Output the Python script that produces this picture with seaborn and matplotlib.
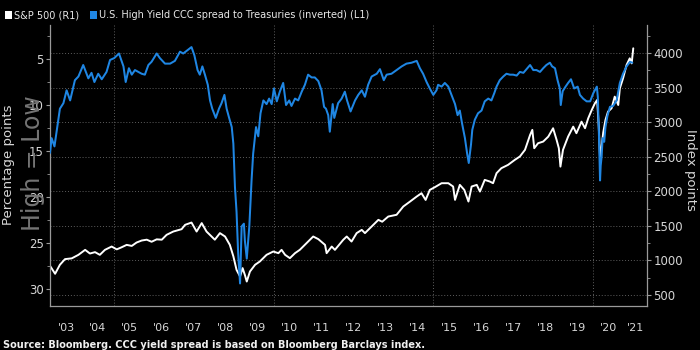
import matplotlib
matplotlib.use("Agg")
import matplotlib.pyplot as plt
import seaborn as sns
import pandas as pd
from matplotlib.patches import Rectangle
from matplotlib.ticker import FixedLocator, MultipleLocator, NullFormatter, FixedFormatter

# ---------------- data ----------------
SPREAD_T = [2003.00, 2003.05, 2003.14, 2003.31, 2003.42, 2003.52, 2003.63, 2003.78, 2003.89, 2004.04,
            2004.20, 2004.30, 2004.39, 2004.51, 2004.62, 2004.77, 2004.88, 2005.01, 2005.16, 2005.30,
            2005.37, 2005.47, 2005.56, 2005.66, 2005.87, 2005.97, 2006.08, 2006.18, 2006.34, 2006.44,
            2006.60, 2006.76, 2006.91, 2007.07, 2007.17, 2007.28, 2007.43, 2007.52, 2007.62, 2007.69,
            2007.77, 2007.85, 2007.94, 2008.01, 2008.08, 2008.19, 2008.29, 2008.37, 2008.46, 2008.53,
            2008.60, 2008.69, 2008.74, 2008.79, 2008.84, 2008.89, 2008.95, 2009.00, 2009.07, 2009.10,
            2009.16, 2009.24, 2009.31, 2009.36, 2009.45, 2009.52, 2009.59, 2009.68, 2009.78, 2009.86,
            2009.94, 2010.01, 2010.10, 2010.20, 2010.30, 2010.39, 2010.49, 2010.56, 2010.67, 2010.77,
            2010.88, 2010.98, 2011.08, 2011.19, 2011.29, 2011.40, 2011.50, 2011.58, 2011.64, 2011.71,
            2011.76, 2011.85, 2011.90, 2012.02, 2012.13, 2012.23, 2012.30, 2012.41, 2012.55, 2012.65,
            2012.76, 2012.86, 2012.96, 2013.07, 2013.23, 2013.33, 2013.45, 2013.54, 2013.69, 2013.85,
            2014.01, 2014.16, 2014.32, 2014.48, 2014.58, 2014.68, 2014.79, 2014.89, 2015.00, 2015.10,
            2015.15, 2015.26, 2015.36, 2015.47, 2015.57, 2015.68, 2015.76, 2015.83, 2015.90, 2015.99,
            2016.06, 2016.11, 2016.18, 2016.22, 2016.30, 2016.40, 2016.51, 2016.61, 2016.72, 2016.82,
            2016.91, 2016.98, 2017.08, 2017.19, 2017.29, 2017.40, 2017.50, 2017.61, 2017.71, 2017.82,
            2017.92, 2018.03, 2018.13, 2018.23, 2018.34, 2018.44, 2018.54, 2018.65, 2018.72, 2018.81,
            2018.89, 2018.96, 2018.99, 2019.05, 2019.14, 2019.22, 2019.31, 2019.41, 2019.52, 2019.59,
            2019.69, 2019.80, 2019.91, 2020.01, 2020.12, 2020.15, 2020.19, 2020.22, 2020.24, 2020.27,
            2020.30, 2020.35, 2020.39, 2020.45, 2020.53, 2020.63, 2020.74, 2020.84, 2020.94, 2021.05,
            2021.16, 2021.23]
SPREAD_V = [15.2, 13.6, 14.5, 10.4, 9.8, 8.4, 9.5, 7.3, 6.9, 5.65,
            7.1, 6.5, 7.5, 6.6, 7.2, 6.4, 5.1, 4.9, 4.4, 5.8,
            7.5, 6.0, 6.7, 6.2, 6.6, 6.7, 5.65, 5.3, 4.4, 4.9,
            5.5, 5.5, 5.2, 4.2, 4.4, 4.1, 3.7, 4.6, 6.2, 6.7,
            5.8, 6.7, 7.8, 9.5, 10.4, 11.4, 10.4, 9.8, 8.9, 10.4,
            11.3, 12.4, 14.2, 18.9, 21.6, 26.1, 29.4, 23.2, 22.9, 24.7,
            26.7, 23.2, 18.2, 15.3, 12.4, 13.4, 10.9, 9.5, 9.9, 9.3,
            9.9, 8.2, 9.6, 8.5, 7.6, 10.0, 9.5, 10.1, 9.3, 9.5,
            8.55, 7.8, 6.7, 7.0, 7.0, 7.4, 8.4, 10.2, 10.4, 11.1,
            12.9, 9.9, 11.4, 9.8, 9.3, 8.55, 9.5, 10.7, 9.5, 8.9,
            8.4, 9.1, 7.8, 6.9, 6.6, 6.1, 7.3, 6.7, 6.6, 6.2,
            5.8, 5.5, 5.4, 5.2, 6.0, 6.6, 7.5, 8.2, 8.9, 8.4,
            7.8, 8.0, 7.6, 8.0, 8.9, 9.9, 11.1, 10.6, 12.0, 13.6,
            15.3, 16.3, 14.3, 12.7, 11.6, 10.9, 10.6, 9.6, 9.3, 9.5,
            8.7, 8.0, 7.3, 6.9, 6.6, 6.7, 6.7, 6.8, 6.4, 6.5,
            6.1, 5.65, 6.2, 6.2, 6.4, 6.0, 5.65, 5.4, 5.8, 6.0,
            7.3, 8.2, 10.0, 8.5, 8.0, 7.6, 7.2, 8.2, 8.0, 8.9,
            9.3, 9.6, 9.6, 8.7, 8.0, 9.1, 13.8, 18.2, 16.6, 15.6,
            13.6, 14.0, 12.4, 11.2, 10.2, 10.1, 9.5, 7.6, 6.6, 5.8,
            5.3, 5.4]

SPX_T = [2003.00, 2003.16, 2003.31, 2003.47, 2003.68, 2003.89, 2004.10, 2004.25, 2004.41, 2004.56,
         2004.72, 2004.93, 2005.09, 2005.24, 2005.40, 2005.56, 2005.71, 2005.87, 2006.03, 2006.18,
         2006.34, 2006.50, 2006.65, 2006.86, 2007.12, 2007.23, 2007.43, 2007.59, 2007.75, 2007.90,
         2008.06, 2008.16, 2008.32, 2008.48, 2008.63, 2008.74, 2008.84, 2008.95, 2009.03, 2009.10,
         2009.16, 2009.26, 2009.42, 2009.57, 2009.78, 2009.99, 2010.15, 2010.25, 2010.36, 2010.51,
         2010.67, 2010.82, 2011.03, 2011.24, 2011.40, 2011.61, 2011.66, 2011.82, 2011.92, 2012.18,
         2012.29, 2012.44, 2012.60, 2012.76, 2012.86, 2013.07, 2013.28, 2013.40, 2013.59, 2013.85,
         2014.06, 2014.27, 2014.48, 2014.63, 2014.76, 2014.89, 2015.05, 2015.26, 2015.47, 2015.62,
         2015.68, 2015.83, 2015.97, 2016.10, 2016.20, 2016.36, 2016.46, 2016.61, 2016.77, 2016.87,
         2016.98, 2017.13, 2017.34, 2017.55, 2017.71, 2017.87, 2018.03, 2018.10, 2018.16, 2018.28,
         2018.44, 2018.60, 2018.75, 2018.86, 2018.93, 2018.98, 2019.06, 2019.22, 2019.38, 2019.48,
         2019.64, 2019.75, 2019.85, 2019.96, 2020.06, 2020.13, 2020.18, 2020.22, 2020.27, 2020.32,
         2020.39, 2020.47, 2020.58, 2020.68, 2020.79, 2020.84, 2020.94, 2021.05, 2021.15, 2021.21,
         2021.26]
SPX_V = [922, 807, 937, 1019, 1030, 1081, 1153, 1100, 1120, 1081,
         1153, 1201, 1160, 1190, 1225, 1210, 1259, 1288, 1300, 1270,
         1305, 1300, 1370, 1418, 1452, 1515, 1548, 1418, 1540, 1418,
         1346, 1300, 1395, 1346, 1225, 1060, 864, 768, 889, 792,
         695, 840, 937, 985, 1081, 1129, 1105, 1153, 1081, 1033,
         1105, 1153, 1250, 1346, 1308, 1225, 1105, 1201, 1153, 1298,
         1346, 1273, 1395, 1442, 1395, 1490, 1587, 1560, 1635, 1660,
         1780, 1851, 1924, 1972, 1875, 2020, 2060, 2117, 2117, 2069,
         1876, 2093, 2020, 1852, 2069, 2093, 1996, 2165, 2141, 2117,
         2262, 2334, 2382, 2454, 2503, 2599, 2815, 2888, 2623, 2695,
         2719, 2791, 2912, 2743, 2623, 2357, 2599, 2791, 2935, 2840,
         3007, 2912, 3056, 3176, 3273, 3321, 2935, 2480, 2646, 2850,
         3032, 3152, 3200, 3369, 3248, 3490, 3634, 3827, 3923, 3850,
         4068]

YEAR_TICKS = list(range(2004, 2022))
YEAR_LABELS = ["'03", "'04", "'05", "'06", "'07", "'08", "'09", "'10", "'11", "'12",
               "'13", "'14", "'15", "'16", "'17", "'18", "'19", "'20", "'21"]
LEFT_TICKS = [5, 10, 15, 20, 25, 30]
RIGHT_TICKS = [500, 1000, 1500, 2000, 2500, 3000, 3500, 4000]
GRID_YEARS = [2005, 2010, 2015, 2020]

SPX_NAME = "S&P 500 (R1)"
SPREAD_NAME = "U.S. High Yield CCC spread to Treasuries (inverted) (L1)"
SOURCE = "Source: Bloomberg. CCC yield spread is based on Bloomberg Barclays index."

assert len(SPREAD_T) == len(SPREAD_V)
assert len(SPX_T) == len(SPX_V)

# ---------------- style ----------------
sns.set_style("dark", rc={"axes.facecolor": "black", "figure.facecolor": "black"})
plt.rcParams["font.family"] = ["DejaVu Sans"]

BLUE = "#1f86e3"
WHITE = "#ffffff"
TXT = "#d6d6d6"
AXC = "#9a9a9a"
GRIDC = "#5e5e5e"

XMIN, XMAX = 2003.0, 2021.69

fig = plt.figure(figsize=(7, 3.5), dpi=100, facecolor="black")
ax = fig.add_axes([50 / 700, 44 / 350, 597 / 700, 281 / 350])
ax2 = ax.twinx()

spread_df = pd.DataFrame({"t": SPREAD_T, "v": SPREAD_V})
spx_df = pd.DataFrame({"t": SPX_T, "v": SPX_V})

sns.lineplot(data=spx_df, x="t", y="v", ax=ax2, color=WHITE, linewidth=1.4, zorder=3)
sns.lineplot(data=spread_df, x="t", y="v", ax=ax, color=BLUE, linewidth=1.45, zorder=3)

ax.set_zorder(ax2.get_zorder() + 1)
ax.patch.set_visible(False)
ax2.patch.set_facecolor("black")
ax2.patch.set_visible(True)

ax.set_xlim(XMIN, XMAX)
ax.set_ylim(31.85, 1.3)
ax2.set_ylim(341, 4405)

# grids
ax.grid(False)
ax2.grid(False)
for yv in RIGHT_TICKS:
    ax2.axhline(yv, color=GRIDC, linestyle=(0, (1, 2)), linewidth=0.7, zorder=0)
for xv in GRID_YEARS:
    ax2.axvline(xv, color=GRIDC, linestyle=(0, (1, 2)), linewidth=0.7, zorder=0)

# x axis: long ticks at year boundaries, labels mid-year
ax.xaxis.set_major_locator(FixedLocator(YEAR_TICKS))
ax.xaxis.set_major_formatter(NullFormatter())
mids = [y + 0.5 for y in range(2003, 2021)] + [(2021 + XMAX) / 2]
ax.xaxis.set_minor_locator(FixedLocator(mids))
ax.xaxis.set_minor_formatter(FixedFormatter(YEAR_LABELS))
ax.tick_params(axis="x", which="major", direction="out", length=23, width=0.8, color=AXC)
ax.tick_params(axis="x", which="minor", length=0, pad=12, labelsize=8, labelcolor=TXT)
ax2.tick_params(axis="x", which="both", length=0, labelbottom=False)

# left y axis
ax.yaxis.set_major_locator(FixedLocator(LEFT_TICKS))
ax.yaxis.set_minor_locator(MultipleLocator(2.5))
ax.tick_params(axis="y", which="major", direction="out", length=3, width=0.8,
               color=AXC, labelsize=8.5, labelcolor=TXT, pad=1.5)
ax.tick_params(axis="y", which="minor", direction="out", length=2, width=0.6, color=AXC)

# right y axis
ax2.yaxis.set_major_locator(FixedLocator(RIGHT_TICKS))
ax2.yaxis.set_minor_locator(MultipleLocator(250))
ax2.tick_params(axis="y", which="major", direction="out", length=3, width=0.8,
                color=AXC, labelsize=8.5, labelcolor=TXT, pad=1.5)
ax2.tick_params(axis="y", which="minor", direction="out", length=2, width=0.6, color=AXC)

ax.set_xlabel("")
ax.set_ylabel("")
ax2.set_xlabel("")
ax2.set_ylabel("")

for a in (ax, ax2):
    for s in a.spines.values():
        s.set_visible(False)
ax.spines["left"].set_visible(True)
ax.spines["bottom"].set_visible(True)
ax2.spines["right"].set_visible(True)
for s in (ax.spines["left"], ax.spines["bottom"], ax2.spines["right"]):
    s.set_color(AXC)
    s.set_linewidth(0.9)

# axis titles
fig.text(9 / 700, 1 - 165 / 350, "Percentage points", rotation=90, ha="center", va="center",
         fontsize=9.5, color=TXT)
fig.text(33 / 700, 1 - 163 / 350, "High = Low", rotation=90, ha="center", va="center",
         fontsize=17, color="#747474")
fig.text(691 / 700, 1 - 170 / 350, "Index points", rotation=270, ha="center", va="center",
         fontsize=9.5, color=TXT)

# legend
fig.patches.append(Rectangle((5 / 700, 1 - 18.5 / 350), 7 / 700, 7 / 350,
                             transform=fig.transFigure, facecolor=WHITE, edgecolor="none"))
fig.text(14 / 700, 1 - 15 / 350, SPX_NAME, ha="left", va="center", fontsize=7, color="#e8e8e8")
fig.patches.append(Rectangle((90 / 700, 1 - 18.5 / 350), 7 / 700, 7 / 350,
                             transform=fig.transFigure, facecolor=BLUE, edgecolor="none"))
fig.text(99 / 700, 1 - 15 / 350, SPREAD_NAME, ha="left", va="center", fontsize=7, color="#e8e8e8")

# source
fig.text(3 / 700, 1 - 345 / 350, SOURCE, ha="left", va="center", fontsize=7,
         fontweight="bold", color="#f0f0f0")

fig.savefig("out.png", dpi=100, facecolor="black")
